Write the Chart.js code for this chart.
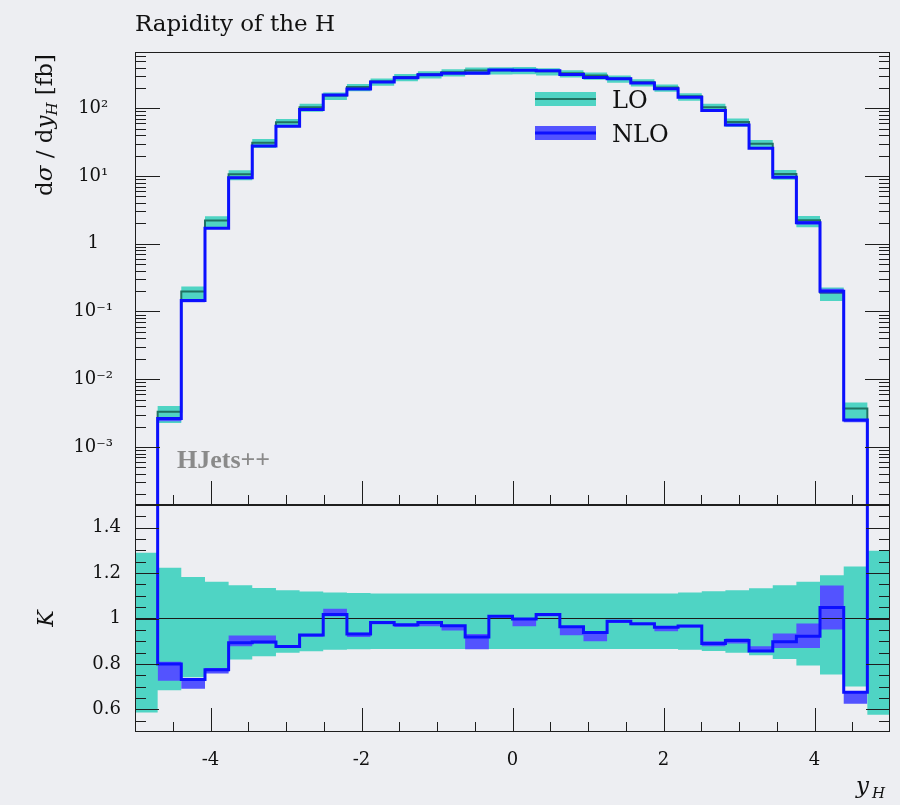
<!DOCTYPE html>
<html>
<head>
<meta charset="utf-8">
<script src="https://cdn.jsdelivr.net/npm/chart.js@4.4.1/dist/chart.umd.min.js"></script>
<style>
  html, body { margin: 0; padding: 0; background: #edeef2; overflow: hidden; }
  #wrap { position: relative; width: 900px; height: 805px; }
  canvas { position: absolute; left: 0; }
  #top { top: 0; }
  #ratio { top: 500px; }
</style>
</head>
<body>
<div id="wrap">
  <canvas id="top" width="900" height="510"></canvas>
  <canvas id="ratio" width="900" height="305"></canvas>
</div>
<script>
// bin edges in y_H; first and last bins are the strips outside |y| = 4.7
const binEdges = [-5, -4.7, -4.387, -4.073, -3.76, -3.447, -3.133, -2.82, -2.507, -2.193, -1.88,
  -1.567, -1.253, -0.94, -0.627, -0.313, 0, 0.313, 0.627, 0.94, 1.253, 1.567, 1.88, 2.193,
  2.507, 2.82, 3.133, 3.447, 3.76, 4.073, 4.387, 4.7, 5];

// dsigma/dy [fb]; outer entries sit below the plotted range
const loXsec = [5e-5, 3.3e-3, 0.198, 2.2, 10.6, 31, 62, 104, 154, 206, 248, 290, 318, 340, 362, 365,
  367, 352, 328, 305, 275, 242, 203, 150, 104, 63, 30, 10.7, 2.22, 0.19, 3.7e-3, 5e-5];
const nloXsec = [1e-7, 2.64e-3, 0.145, 1.70, 9.47, 27.8, 54.4, 96.4, 156.8, 192, 243.5, 282, 312, 329, 332, 369,
  366, 358, 316, 286, 272, 236, 195, 145, 92.6, 56.9, 25.7, 9.61, 2.05, 0.199, 2.5e-3, 1e-7];

// ratio panel (relative to LO central value)
const loBandLo = [0.586, 0.684, 0.741, 0.765, 0.819, 0.834, 0.849, 0.856, 0.862, 0.865, 0.866, 0.866, 0.866, 0.866, 0.866, 0.866,
  0.866, 0.866, 0.866, 0.866, 0.866, 0.866, 0.866, 0.862, 0.857, 0.849, 0.838, 0.822, 0.793, 0.753, 0.70, 0.576];
const loBandHi = [1.29, 1.224, 1.183, 1.162, 1.146, 1.134, 1.125, 1.119, 1.115, 1.112, 1.11, 1.11, 1.11, 1.11, 1.11, 1.11,
  1.11, 1.11, 1.11, 1.11, 1.11, 1.11, 1.11, 1.115, 1.12, 1.125, 1.133, 1.146, 1.162, 1.19, 1.229, 1.298];
const nloRatio = [8, 0.80, 0.731, 0.774, 0.893, 0.896, 0.877, 0.927, 1.018, 0.932, 0.982, 0.973, 0.982, 0.968, 0.918, 1.01,
  0.998, 1.018, 0.964, 0.938, 0.988, 0.977, 0.962, 0.967, 0.89, 0.903, 0.857, 0.898, 0.922, 1.048, 0.675, 8];
const nloBandLo = [null, 0.726, 0.69, 0.758, 0.878, 0.89, 0.87, 0.92, 1.01, 0.919, 0.975, 0.963, 0.966, 0.947, 0.864, 1.005,
  0.966, 1.01, 0.926, 0.9, 0.98, 0.97, 0.944, 0.96, 0.878, 0.89, 0.853, 0.87, 0.87, 0.951, 0.624, null];
const nloBandHi = [null, 0.81, 0.735, 0.782, 0.925, 0.925, 0.882, 0.932, 1.043, 0.937, 0.985, 0.976, 0.983, 0.97, 0.932, 1.013,
  1.0, 1.022, 0.965, 0.94, 0.99, 0.98, 0.963, 0.97, 0.9, 0.912, 0.878, 0.934, 0.978, 1.145, 0.677, null];

const topTickVals = [1e-3, 1e-2, 1e-1, 1, 10, 100];
const topTickLabels = ['10⁻³', '10⁻²', '10⁻¹', '1', '10¹', '10²'];
const ratioTickVals = [0.6, 0.8, 1, 1.2, 1.4];
const ratioTickLabels = ['0.6', '0.8', '1', '1.2', '1.4'];
const xTickVals = [-4, -2, 0, 2, 4];
const xTickLabels = ['-4', '-2', '0', '2', '4'];

const xMin = -5, xMax = 5;
const yMin = 1.39e-4, yMax = 678;
const kMin = 0.5, kMax = 1.5, refLevel = 1;

const loFill = '#4fd4c4';
const loLine = '#1f7262';
const nloFill = '#5353ff';
const nloLine = '#0c10ff';
const serif = '"DejaVu Serif"';

// two points per bin so the line draws a histogram outline; null bins are left out
function histPoints(values) {
  const pts = [];
  values.forEach((v, i) => {
    if (v === null) return;
    pts.push({ x: binEdges[i], y: v }, { x: binEdges[i + 1], y: v });
  });
  return pts;
}
function scaled(rel) {
  return rel.map((r, i) => r === null ? null : r * loXsec[i]);
}

function lineSet(data, color, width) {
  return { data, borderColor: color, borderWidth: width, pointRadius: 0, fill: false,
    borderJoinStyle: 'miter', borderCapStyle: 'butt' };
}
function bandSet(data, color, fillIt) {
  return { data, borderColor: 'transparent', borderWidth: 1, pointRadius: 0,
    backgroundColor: color, fill: fillIt ? '+1' : false };
}

function logTicks() {
  const out = [];
  for (let d = -4; d <= 2; d++) {
    for (let m = 1; m <= 9; m++) {
      const v = m * Math.pow(10, d);
      if (v > yMin && v < yMax) out.push({ v, len: m === 1 ? 25 : 11 });
    }
  }
  return out;
}
function xMarks() {
  const out = [];
  for (let k = -9; k <= 9; k++) out.push({ v: k / 2, len: k % 4 === 0 ? 24 : 10 });
  return out;
}
function ratioMarks() {
  const out = [];
  for (let k = 11; k <= 29; k++) out.push({ v: k * 0.05, len: k % 4 === 0 ? 24 : 11 });
  return out;
}

// keep the plot frame exactly where the layout padding puts it
function fixBox(size) {
  return s => {
    if (s.isHorizontal()) s.height = size; else s.width = size;
    s.paddingTop = 0; s.paddingBottom = 0; s.paddingLeft = 0; s.paddingRight = 0;
  };
}

const frameTicks = {
  id: 'frameTicks',
  afterDatasetsDraw(chart, args, opts) {
    const { ctx, chartArea: a, scales } = chart;
    ctx.save();
    ctx.strokeStyle = '#1e1e1e';
    ctx.lineWidth = 1;
    ctx.beginPath();
    opts.yTicks.forEach(t => {
      const y = Math.round(scales.y.getPixelForValue(t.v)) + 0.5;
      ctx.moveTo(a.left, y); ctx.lineTo(a.left + t.len, y);
      ctx.moveTo(a.right, y); ctx.lineTo(a.right - t.len, y);
    });
    opts.xTicks.forEach(t => {
      const x = Math.round(scales.x.getPixelForValue(t.v)) + 0.5;
      ctx.moveTo(x, a.bottom); ctx.lineTo(x, a.bottom - t.len);
    });
    ctx.stroke();
    ctx.strokeRect(a.left + 0.5, a.top + 0.5, a.right - a.left - 1, a.bottom - a.top - 1);
    ctx.restore();
  }
};

function drawRuns(ctx, runs) {
  let w = 0;
  runs.forEach(r => { ctx.font = r.font; w += ctx.measureText(r.text).width; });
  let x = -w;
  runs.forEach(r => {
    ctx.font = r.font;
    ctx.fillText(r.text, x, r.dy || 0);
    x += ctx.measureText(r.text).width;
  });
}

const topText = {
  id: 'topText',
  afterDraw(chart) {
    const { ctx, chartArea: a } = chart;
    ctx.save();
    ctx.fillStyle = '#111';
    ctx.textBaseline = 'alphabetic';
    ctx.textAlign = 'left';
    ctx.font = '23px ' + serif;
    ctx.fillText('Rapidity of the H', a.left, 31);

    // y axis title, top aligned
    ctx.save();
    ctx.translate(52, 54);
    ctx.rotate(-Math.PI / 2);
    drawRuns(ctx, [
      { text: 'd', font: '23px ' + serif },
      { text: 'σ', font: 'italic 23px ' + serif },
      { text: ' / d', font: '23px ' + serif },
      { text: 'y', font: 'italic 23px ' + serif },
      { text: 'H', font: 'italic 15px ' + serif, dy: 5 },
      { text: ' [fb]', font: '23px ' + serif }
    ]);
    ctx.restore();

    ctx.font = 'bold 26px "Liberation Serif"';
    ctx.fillStyle = '#8a8a8a';
    ctx.fillText('HJets++', 177, 468);

    // legend
    const lx = 535, lw = 61;
    ctx.fillStyle = loFill;
    ctx.fillRect(lx, 92, lw, 14);
    ctx.fillStyle = loLine;
    ctx.fillRect(lx, 98, lw, 2);
    ctx.fillStyle = nloFill;
    ctx.fillRect(lx, 126, lw, 14);
    ctx.fillStyle = nloLine;
    ctx.fillRect(lx, 131.5, lw, 3);
    ctx.fillStyle = '#111';
    ctx.font = '24px ' + serif;
    ctx.fillText('LO', 612, 108);
    ctx.fillText('NLO', 612, 142);
    ctx.restore();
  }
};

const ratioText = {
  id: 'ratioText',
  afterDraw(chart) {
    const { ctx } = chart;
    ctx.save();
    ctx.fillStyle = '#111';
    ctx.textBaseline = 'alphabetic';
    ctx.font = 'italic 23px ' + serif;
    ctx.fillText('y', 856, 293);
    ctx.font = 'italic 15px ' + serif;
    ctx.fillText('H', 872, 298);
    ctx.restore();
  }
};

const tickFont = { family: 'DejaVu Serif', size: 18 };

new Chart(document.getElementById('top'), {
  type: 'line',
  data: {
    datasets: [
      lineSet(histPoints(nloXsec), nloLine, 3),
      lineSet(histPoints(loXsec), loLine, 2),
      bandSet(histPoints(scaled(nloBandHi)), nloFill, true),
      bandSet(histPoints(scaled(nloBandLo)), nloFill, false),
      bandSet(histPoints(scaled(loBandHi)), loFill, true),
      bandSet(histPoints(scaled(loBandLo)), loFill, false)
    ]
  },
  options: {
    responsive: false,
    animation: false,
    events: [],
    layout: { padding: { top: 52, right: 10, bottom: 5, left: 0 } },
    plugins: {
      legend: { display: false },
      tooltip: { enabled: false },
      frameTicks: { yTicks: logTicks(), xTicks: xMarks() }
    },
    scales: {
      x: { type: 'linear', min: xMin, max: xMax, display: false },
      y: {
        type: 'logarithmic', min: yMin, max: yMax,
        grid: { display: false, drawTicks: false },
        border: { display: false },
        afterBuildTicks: s => { s.ticks = topTickVals.map(v => ({ value: v })); },
        afterFit: fixBox(135),
        ticks: {
          autoSkip: false, padding: 22, crossAlign: 'center', color: '#111', font: tickFont,
          callback: (v, i) => topTickLabels[i]
        }
      }
    }
  },
  plugins: [frameTicks, topText]
});

new Chart(document.getElementById('ratio'), {
  type: 'line',
  data: {
    datasets: [
      lineSet(histPoints(nloRatio), nloLine, 3),
      lineSet([{ x: xMin, y: refLevel }, { x: xMax, y: refLevel }], '#1a1a1a', 1.2),
      bandSet(histPoints(nloBandHi), nloFill, true),
      bandSet(histPoints(nloBandLo), nloFill, false),
      bandSet(histPoints(loBandHi), loFill, true),
      bandSet(histPoints(loBandLo), loFill, false)
    ]
  },
  options: {
    responsive: false,
    animation: false,
    events: [],
    layout: { padding: { top: 5, right: 10, bottom: 0, left: 0 } },
    plugins: {
      legend: { display: false },
      tooltip: { enabled: false },
      frameTicks: { yTicks: ratioMarks(), xTicks: xMarks() }
    },
    scales: {
      x: {
        type: 'linear', min: xMin, max: xMax,
        grid: { display: false, drawTicks: false },
        border: { display: false },
        afterBuildTicks: s => { s.ticks = xTickVals.map(v => ({ value: v })); },
        afterFit: fixBox(73),
        ticks: {
          autoSkip: false, maxRotation: 0, padding: 18, color: '#111', font: tickFont,
          callback: (v, i) => xTickLabels[i]
        }
      },
      y: {
        type: 'linear', min: kMin, max: kMax,
        grid: { display: false, drawTicks: false },
        border: { display: false },
        afterBuildTicks: s => { s.ticks = ratioTickVals.map(v => ({ value: v })); },
        afterFit: fixBox(135),
        title: {
          display: true, text: 'K', color: '#111',
          font: { family: 'DejaVu Serif', size: 22, style: 'italic' },
          padding: { top: 34, bottom: 0 }
        },
        ticks: {
          autoSkip: false, padding: 14, color: '#111', font: tickFont,
          callback: (v, i) => ratioTickLabels[i]
        }
      }
    }
  },
  plugins: [frameTicks, ratioText]
});
</script>
</body>
</html>
